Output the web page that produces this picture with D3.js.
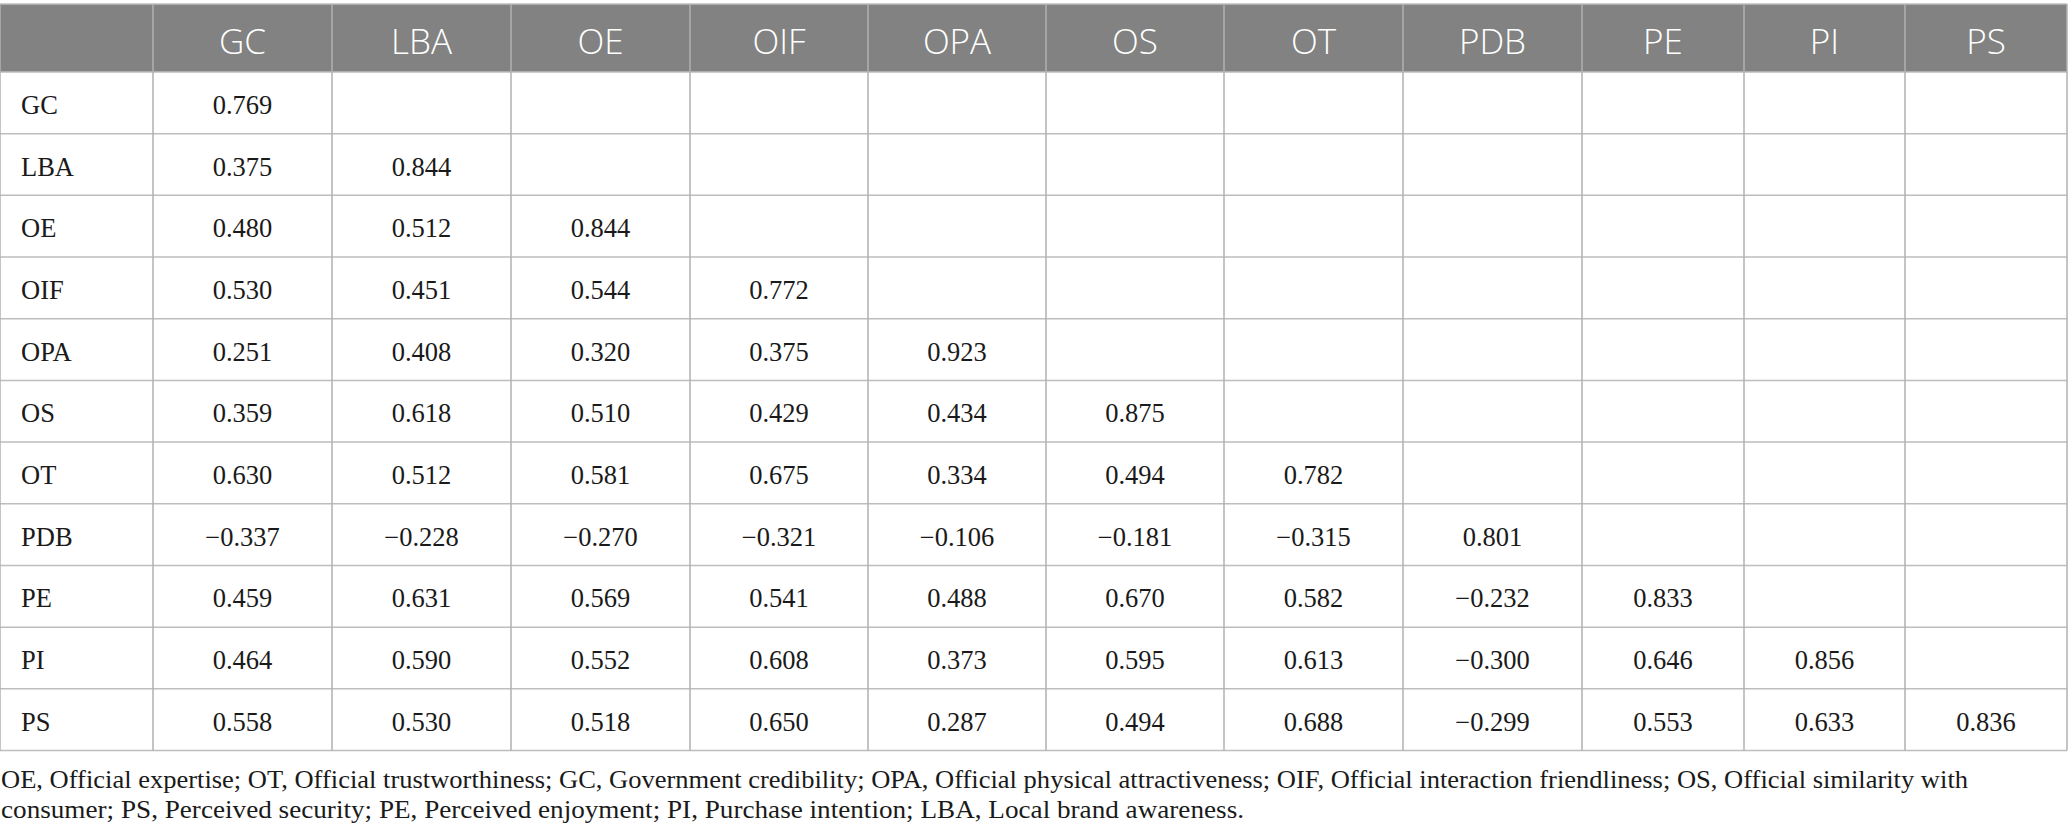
<!DOCTYPE html>
<html>
<head>
<meta charset="utf-8">
<script src="https://cdn.jsdelivr.net/npm/d3@7"></script>
<style>
  html, body { margin: 0; padding: 0; background: #ffffff; }
  svg { display: block; }
</style>
</head>
<body>
<svg id="chart" width="2068" height="840"></svg>
<script>
// ---------- DATA ----------
const variables = ["GC", "LBA", "OE", "OIF", "OPA", "OS", "OT", "PDB", "PE", "PI", "PS"];
const rowGC  = [0.769];
const rowLBA = [0.375, 0.844];
const rowOE  = [0.480, 0.512, 0.844];
const rowOIF = [0.530, 0.451, 0.544, 0.772];
const rowOPA = [0.251, 0.408, 0.320, 0.375, 0.923];
const rowOS  = [0.359, 0.618, 0.510, 0.429, 0.434, 0.875];
const rowOT  = [0.630, 0.512, 0.581, 0.675, 0.334, 0.494, 0.782];
const rowPDB = [-0.337, -0.228, -0.270, -0.321, -0.106, -0.181, -0.315, 0.801];
const rowPE  = [0.459, 0.631, 0.569, 0.541, 0.488, 0.670, 0.582, -0.232, 0.833];
const rowPI  = [0.464, 0.590, 0.552, 0.608, 0.373, 0.595, 0.613, -0.300, 0.646, 0.856];
const rowPS  = [0.558, 0.530, 0.518, 0.650, 0.287, 0.494, 0.688, -0.299, 0.553, 0.633, 0.836];
const footnoteLines = [
  "OE, Official expertise; OT, Official trustworthiness; GC, Government credibility; OPA, Official physical attractiveness; OIF, Official interaction friendliness; OS, Official similarity with",
  "consumer; PS, Perceived security; PE, Perceived enjoyment; PI, Purchase intention; LBA, Local brand awareness."
];

const matrix = [rowGC, rowLBA, rowOE, rowOIF, rowOPA, rowOS, rowOT, rowPDB, rowPE, rowPI, rowPS];

// ---------- LAYOUT ----------
const firstColW = 153;
const colWidths = [179, 179, 179, 178, 178, 178, 179, 179, 162, 161, 162];
const tableTop = 4, headerBottom = 72, tableBottom = 750.5;
const lineColor = "#bdbdbd";
const headerFill = "#818281";
const footnoteWidths = [1967, 1243];

const edges = [0, firstColW];
colWidths.forEach(w => edges.push(edges[edges.length - 1] + w));
const tableRight = edges[edges.length - 1];

const x = d3.scaleOrdinal().domain(variables).range(variables.map((v, i) => edges[i + 1]));
const colW = d3.scaleOrdinal().domain(variables).range(colWidths);
const y = d3.scaleBand().domain(variables).range([headerBottom, tableBottom]).padding(0);

const fmt = v => (v < 0 ? "\u2212" : "") + d3.format(".3f")(Math.abs(v));

const svg = d3.select("#chart");

// header background
svg.append("rect")
  .attr("x", 0).attr("y", tableTop)
  .attr("width", tableRight).attr("height", headerBottom - tableTop)
  .attr("fill", headerFill);

// header labels
svg.append("g").selectAll("text").data(variables).join("text")
  .attr("x", d => x(d) + colW(d) / 2)
  .attr("y", 53.5)
  .attr("text-anchor", "middle")
  .attr("fill", "#ffffff")
  .attr("font-family", "'Open Sans', Lato, sans-serif")
  .attr("font-weight", 300)
  .attr("font-size", 35)
  .text(d => d);

// grid lines
const grid = svg.append("g").attr("stroke", lineColor).attr("stroke-width", 1.5);
const hLines = [tableTop, headerBottom].concat(variables.map(v => y(v) + y.bandwidth()));
grid.selectAll("line.h").data(hLines).join("line")
  .attr("class", "h")
  .attr("x1", 0).attr("x2", tableRight)
  .attr("y1", d => d).attr("y2", d => d);
grid.selectAll("line.v").data(edges).join("line")
  .attr("class", "v")
  .attr("x1", d => d).attr("x2", d => d)
  .attr("y1", tableTop).attr("y2", tableBottom)
  .attr("stroke", "#b0b0b0");

// row labels
svg.append("g").selectAll("text").data(variables).join("text")
  .attr("x", 21)
  .attr("y", d => y(d) + 42)
  .attr("fill", "#1a1a1a")
  .attr("font-family", "'Liberation Serif', 'DejaVu Serif', serif")
  .attr("font-size", 26.5)
  .text(d => d);

// cells
const cells = [];
matrix.forEach((row, ri) => row.forEach((v, ci) => cells.push({ r: variables[ri], c: variables[ci], v })));
svg.append("g").selectAll("text").data(cells).join("text")
  .attr("x", d => x(d.c) + colW(d.c) / 2)
  .attr("y", d => y(d.r) + 42)
  .attr("text-anchor", "middle")
  .attr("fill", "#1a1a1a")
  .attr("font-family", "'Liberation Serif', 'DejaVu Serif', serif")
  .attr("font-size", 26.5)
  .text(d => fmt(d.v));

// footnote
svg.append("g").selectAll("text").data(footnoteLines).join("text")
  .attr("x", 1)
  .attr("y", (d, i) => 788 + i * 30)
  .attr("fill", "#1a1a1a")
  .attr("font-family", "'Liberation Serif', 'DejaVu Serif', serif")
  .attr("font-size", 24.5)
  .attr("textLength", (d, i) => footnoteWidths[i])
  .attr("lengthAdjust", "spacingAndGlyphs")
  .text(d => d);
</script>
</body>
</html>
